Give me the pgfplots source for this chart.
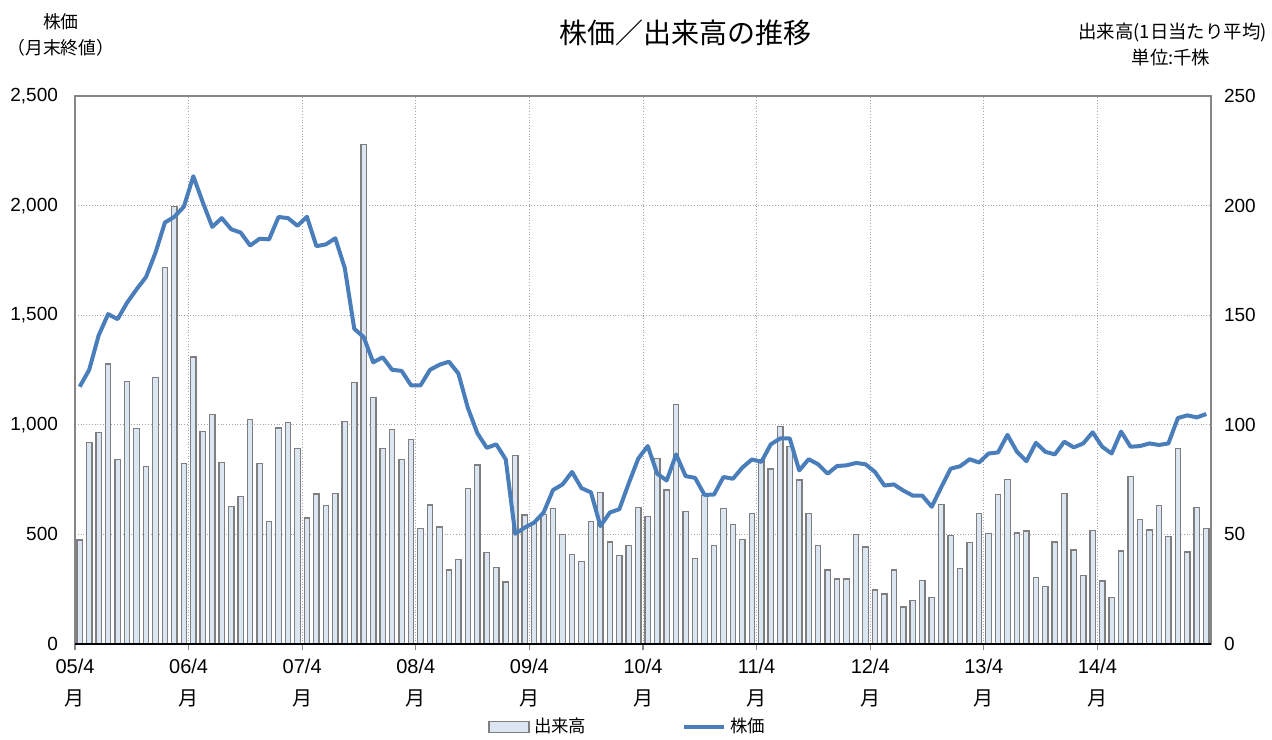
\documentclass[border=0pt]{standalone}
\usepackage{fontspec}
\setmainfont{Liberation Sans}
\newfontfamily\jp{Noto Sans CJK JP}
\usepackage{pgfplots}
\usepackage{pgfplotstable}
\pgfplotsset{compat=1.18}
\definecolor{barfill}{HTML}{DCE6F2}
\definecolor{baredge}{HTML}{7F7F7F}
\definecolor{linecol}{HTML}{4A7EBB}
\definecolor{gridc}{HTML}{A6A6A6}
\definecolor{framec}{HTML}{868686}

\pgfplotstableread{
x v p
0.5 47.4 1174
1.5 91.8 1251
2.5 96.6 1408
3.5 127.7 1505
4.5 84.2 1482
5.5 119.8 1557
6.5 98.2 1618
7.5 81.1 1674
8.5 121.5 1785
9.5 171.7 1923
10.5 199.7 1949
11.5 82.5 1995
12.5 130.9 2134
13.5 96.9 2015
14.5 104.6 1903
15.5 82.8 1943
16.5 62.8 1892
17.5 67.2 1877
18.5 102.3 1818
19.5 82.2 1849
20.5 56.0 1846
21.5 98.5 1948
22.5 101.2 1943
23.5 89.2 1908
24.5 57.5 1949
25.5 68.5 1815
26.5 63.1 1823
27.5 68.8 1851
28.5 101.5 1715
29.5 119.2 1438
30.5 228.0 1400
31.5 112.3 1285
32.5 89.2 1308
33.5 98.0 1251
34.5 84.2 1246
35.5 93.4 1180
36.5 52.8 1180
37.5 63.4 1251
38.5 53.4 1274
39.5 33.7 1288
40.5 38.5 1234
41.5 70.9 1077
42.5 81.7 962
43.5 41.8 895
44.5 34.8 911
45.5 28.3 842
46.5 86.0 503
47.5 58.8 531
48.5 55.0 554
49.5 59.2 600
50.5 61.8 703
51.5 50.0 728
52.5 40.9 785
53.5 37.7 711
54.5 55.8 692
55.5 69.2 538
56.5 46.5 600
57.5 40.5 615
58.5 44.8 734
59.5 62.2 846
60.5 58.3 903
61.5 84.6 777
62.5 70.3 746
63.5 109.4 865
64.5 60.3 766
65.5 39.1 758
66.5 67.7 680
67.5 44.8 682
68.5 61.8 762
69.5 54.6 754
70.5 47.8 805
71.5 59.5 842
72.5 84.2 831
73.5 79.8 911
74.5 99.2 938
75.5 90.0 938
76.5 74.8 792
77.5 59.4 843
78.5 44.8 820
79.5 33.7 777
80.5 29.7 812
81.5 29.7 815
82.5 50.0 826
83.5 44.2 820
84.5 24.6 785
85.5 22.8 723
86.5 33.7 728
87.5 16.9 700
88.5 19.7 677
89.5 28.9 677
90.5 21.1 626
91.5 63.8 715
92.5 49.4 800
93.5 34.3 811
94.5 46.3 843
95.5 59.5 828
96.5 50.3 869
97.5 68.2 874
98.5 75.1 954
99.5 50.6 877
100.5 51.5 834
101.5 30.5 918
102.5 26.3 877
103.5 46.5 865
104.5 68.6 923
105.5 42.9 897
106.5 31.1 915
107.5 51.7 966
108.5 28.8 900
109.5 21.1 869
110.5 42.5 969
111.5 76.5 900
112.5 56.8 903
113.5 52.0 915
114.5 63.1 908
115.5 49.0 915
116.5 89.1 1031
117.5 42.0 1043
118.5 62.2 1034
119.5 52.8 1049
}\data

\begin{document}
\begin{tikzpicture}
\begin{axis}[
  at={(0,0)}, anchor=south west, scale only axis,
  width=568pt, height=274pt,
  xmin=0, xmax=120, ymin=0, ymax=250,
  ytick={0,50,...,250},
  xtick={0,12,...,108},
  xticklabels={{05/4\\\jp 月},{06/4\\\jp 月},{07/4\\\jp 月},{08/4\\\jp 月},{09/4\\\jp 月},{10/4\\\jp 月},{11/4\\\jp 月},{12/4\\\jp 月},{13/4\\\jp 月},{14/4\\\jp 月}},
  xticklabel style={align=center, font=\fontsize{10}{16}\selectfont, yshift=-1pt},
  yticklabel pos=right,
  yticklabel style={font=\fontsize{9.5}{11}\selectfont},
  /pgf/number format/assume math mode=true,
  grid=major,
  major grid style={gridc, densely dotted, line width=0.5pt},
  axis line style={framec, line width=0.8pt},
  xtick pos=left, tick align=outside,
  x tick style={framec, line width=0.6pt},
  major tick length=3pt,
  y tick style={draw=none},
  clip=false,
]
\addplot[ybar, bar width=2.7pt, fill=barfill, draw=baredge, line width=0.65pt] table[x=x,y=v]{\data};
\draw[black, line width=0.8pt] (rel axis cs:0,0) -- (rel axis cs:1,0);
\end{axis}
\begin{axis}[
  at={(0,0)}, anchor=south west, scale only axis,
  width=568pt, height=274pt,
  xmin=0, xmax=120, ymin=0, ymax=2500,
  ytick={0,500,...,2500},
  xtick=\empty,
  axis line style={draw=none},
  yticklabel pos=left,
  y tick style={draw=none},
  yticklabel style={font=\fontsize{9.5}{11}\selectfont, xshift=-5pt},
  /pgf/number format/.cd, 1000 sep={,}, assume math mode=true,
  /pgfplots/.cd,
  legend style={at={(0.3636,0)}, yshift=-41.5pt, anchor=west, draw=none, fill=none,
    inner sep=0pt, legend columns=2, font=\jp\fontsize{8.7}{10}\selectfont,
    /tikz/every even column/.append style={column sep=46pt}},
]
\addlegendimage{legend image code/.code={\draw[fill=barfill,draw=baredge,line width=0.8pt] (0pt,-2.7pt) rectangle (20pt,2.7pt);}}
\addlegendentry{出来高}
\addplot[linecol, line width=2pt, line join=round, mark=none,
  legend image code/.code={\draw[linecol,line width=2pt] (0pt,0pt) -- (20pt,0pt);}] table[x=x,y=p]{\data};
\addlegendentry{株価}
\end{axis}
\node[font=\jp\fontsize{14}{16}\selectfont] at (305pt,305.5pt) {株価／出来高の推移};
\node[font=\jp\fontsize{8.9}{10}\selectfont] at (-7pt,311pt) {株価};
\node[font=\jp\fontsize{8.9}{10}\selectfont] at (-7pt,298pt) {（月末終値）};
\node[font=\jp\fontsize{9.2}{10}\selectfont, anchor=east, inner sep=0pt] at (596pt,305.5pt) {出来高(1日当たり平均)};
\node[font=\jp\fontsize{9.2}{10}\selectfont] at (548pt,293pt) {単位:千株};
\path[use as bounding box] (-37.5pt,-46pt) rectangle (598.5pt,322pt);
\end{tikzpicture}
\end{document}
